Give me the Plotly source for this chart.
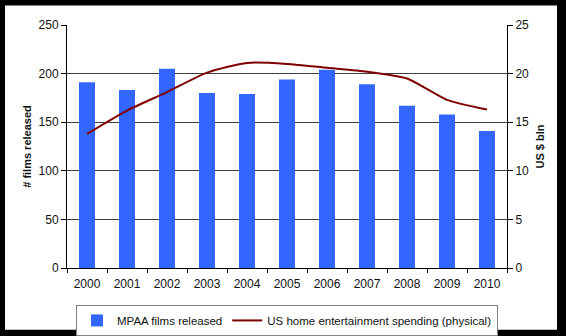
import plotly.graph_objects as go

years = ["2000", "2001", "2002", "2003", "2004", "2005", "2006", "2007", "2008", "2009", "2010"]
films_released = [191, 183, 205, 180, 179, 194, 204, 189, 167, 158, 141]
home_spending = [13.8, 16.2, 18.1, 20.1, 21.1, 21.0, 20.6, 20.2, 19.5, 17.3, 16.3]

FONT = "Liberation Sans, Arial, sans-serif"

fig = go.Figure()
fig.add_trace(go.Bar(
    x=years, y=films_released, name="MPAA films released",
    marker=dict(color="#3366FF", line=dict(width=0)), yaxis="y"))
fig.add_trace(go.Scatter(
    x=years, y=home_spending, name="US home entertainment spending (physical)",
    mode="lines", line=dict(color="#800000", width=2, shape="spline", smoothing=0.6),
    yaxis="y2"))

# white chart area inside black frame
fig.add_shape(type="rect", xref="paper", yref="paper",
              x0=(5 - 67) / 440, x1=(557 - 67) / 440,
              y0=(268 - 330) / 243.5, y1=(268 - 5) / 243.5,
              fillcolor="white", line=dict(width=0), layer="below")

fig.update_layout(
    width=566, height=336,
    margin=dict(l=67, r=59, t=24.5, b=68, autoexpand=False),
    paper_bgcolor="black", plot_bgcolor="white",
    font=dict(family=FONT, size=12, color="#111"),
    bargap=0.6,
    showlegend=True,
    legend=dict(orientation="h", x=0.5, xanchor="center", y=(268 - 305) / 243.5, yanchor="top",
                bgcolor="white", bordercolor="#808080", borderwidth=1,
                font=dict(family=FONT, size=11.5, color="#111"),
                itemwidth=30, tracegroupgap=0),
    xaxis=dict(type="category", tickson="boundaries", ticks="outside", ticklen=4,
               tickcolor="black", showline=True, linecolor="black", linewidth=1,
               showgrid=False, tickfont=dict(size=12), ticklabelstandoff=5),
    yaxis=dict(range=[0, 250], dtick=50, ticks="outside", ticklen=5, tickcolor="black",
               showline=True, linecolor="black", linewidth=1,
               showgrid=True, gridcolor="#404040", gridwidth=1, zeroline=False,
               title=dict(text="<b># films released</b>", font=dict(size=11), standoff=4),
               tickfont=dict(size=12)),
    yaxis2=dict(range=[0, 25], dtick=5, overlaying="y", side="right", ticks="outside",
                ticklen=5, tickcolor="black", showline=True, linecolor="black", linewidth=1,
                showgrid=False, zeroline=False,
                title=dict(text="<b>US $ bln</b>", font=dict(size=11), standoff=8),
                tickfont=dict(size=12)),
)

fig.write_html("out.html")
